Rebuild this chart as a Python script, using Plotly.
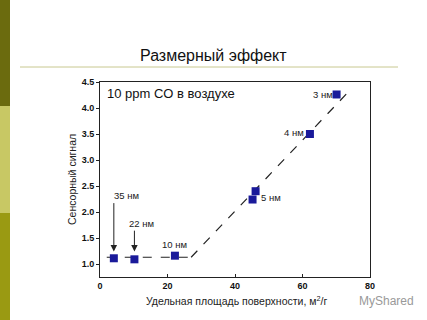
import plotly.graph_objects as go

# Data
surface_area = [4.1, 10.2, 22.2, 45.2, 46.1, 62.2, 70.1]
signal = [1.11, 1.09, 1.16, 2.24, 2.40, 3.50, 4.26]
fit_flat_x = [2, 27]
fit_flat_y = [1.13, 1.13]
fit_slope_x = [27, 73.3]
fit_slope_y = [1.13, 4.29]

# Size labels: (text, x, y)
labels = [("3 нм", 66.1, 4.26), ("4 нм", 57.6, 3.53), ("5 нм", 50.8, 2.27),
          ("10 нм", 22.1, 1.38)]
arrow_labels = [("35 нм", 7.9, 2.32, 4.1, 2.20, 1.24),
                ("22 нм", 12.4, 1.77, 10.2, 1.67, 1.24)]

W, H = 427, 320
L, R, T, B = 100, 57, 82, 43
pw, ph = W - L - R, H - T - B

def px(x):
    return (x - L) / pw

def py(y):
    return (H - B - y) / ph

fig = go.Figure()
fig.add_trace(go.Scatter(x=fit_flat_x, y=fit_flat_y, mode="lines",
                         line=dict(color="#222", width=1.2, dash="dash"),
                         hoverinfo="skip", showlegend=False))
fig.add_trace(go.Scatter(x=fit_slope_x, y=fit_slope_y, mode="lines",
                         line=dict(color="#222", width=1.2, dash="dash"),
                         hoverinfo="skip", showlegend=False))
fig.add_trace(go.Scatter(x=surface_area, y=signal, mode="markers",
                         marker=dict(symbol="square", size=8, color="#1a1a9a"),
                         showlegend=False))

lab_font = dict(size=9.5, color="#222", family="Arial")
ann = []
for t, x, y in labels:
    ann.append(dict(x=x, y=y, text=t, showarrow=False, xref="x", yref="y", font=lab_font))
for t, lx, ly, x, y0, y1 in arrow_labels:
    ann.append(dict(x=lx, y=ly, text=t, showarrow=False, xref="x", yref="y", font=lab_font))
    ann.append(dict(x=x, y=y1, ax=x, ay=y0, axref="x", ayref="y", xref="x", yref="y",
                    text="", showarrow=True, arrowhead=2, arrowsize=1.3,
                    arrowwidth=1, arrowcolor="#222"))

def pann(text, x, y, size, color="#111", angle=0, xanchor="center"):
    return dict(x=px(x), y=py(y), xref="paper", yref="paper", xanchor=xanchor,
                yanchor="middle", text=text, showarrow=False, textangle=angle,
                font=dict(size=size, color=color, family="Arial"))

ann.append(pann("10 ppm CO в воздухе", 105, 93, 13, xanchor="left"))
ann.append(pann("Размерный эффект", 213, 55, 16))
ann.append(pann("Удельная площадь поверхности, м<sup>2</sup>/г", 236, 300, 10.5, "#222"))
ann.append(pann("Сенсорный сигнал", 72, 180, 10.5, "#222", angle=-90))
ann.append(pann("MyShared", 386, 301, 12, "#999"))

shapes = [
    dict(type="rect", xref="paper", yref="paper", x0=px(0), x1=px(10), y0=py(0), y1=py(106),
         fillcolor="#6b6b0e", line=dict(width=0), layer="below"),
    dict(type="rect", xref="paper", yref="paper", x0=px(0), x1=px(10), y0=py(106), y1=py(213),
         fillcolor="#c8c864", line=dict(width=0), layer="below"),
    dict(type="rect", xref="paper", yref="paper", x0=px(0), x1=px(10), y0=py(213), y1=py(320),
         fillcolor="#9a9a12", line=dict(width=0), layer="below"),
    dict(type="line", xref="paper", yref="paper", x0=px(20), x1=px(398), y0=py(67), y1=py(67),
         line=dict(color="#c8c890", width=1)),
]

tick_font = dict(size=9, family="Arial", color="#111", weight="bold")
fig.update_layout(
    width=W, height=H, margin=dict(l=L, r=R, t=T, b=B),
    paper_bgcolor="white", plot_bgcolor="white",
    annotations=ann, shapes=shapes,
    xaxis=dict(range=[0, 80], tickvals=[0, 20, 40, 60, 80], showgrid=False, zeroline=False,
               showline=True, linecolor="#222", linewidth=1, mirror=True,
               ticks="inside", ticklen=3, tickcolor="#222", tickfont=tick_font),
    yaxis=dict(range=[0.75, 4.5], tickvals=[1.0, 1.5, 2.0, 2.5, 3.0, 3.5, 4.0, 4.5],
               tickformat=".1f", showgrid=False, zeroline=False,
               showline=True, linecolor="#222", linewidth=1, mirror=True,
               ticks="outside", ticklen=3, tickcolor="#222", tickfont=tick_font),
)
fig.write_html("out.html")
